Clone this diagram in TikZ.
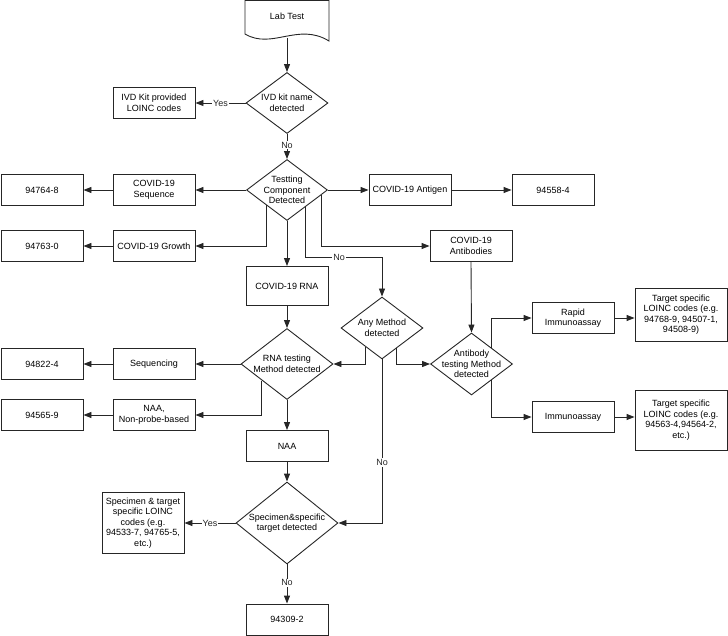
\documentclass[tikz,border=0pt]{standalone}
\usepackage{fontspec}
\setmainfont{Liberation Sans}
\usepackage{tikz}
\usetikzlibrary{shapes.geometric,calc,arrows.meta}

\begin{document}
\begin{tikzpicture}[x=1pt, y=-1pt,
  proc/.style={rectangle, draw=black!85, line width=0.9pt, fill=white,
               minimum width=82pt, minimum height=31pt, inner sep=1pt,
               align=center, font=\fontsize{9}{10.5}\selectfont},
  dec/.style={diamond, draw=black!85, line width=0.9pt, fill=white,
              inner sep=0pt},
  dtext/.style={align=center, inner sep=0pt,
                font=\fontsize{9}{10.5}\selectfont},
  flow/.style={line width=0.9pt, black!85,
               -{Triangle[length=8pt,width=6pt]}},
  tag/.style={fill=white, inner sep=1pt,
              font=\fontsize{9}{10.5}\selectfont}
]
\useasboundingbox (0,0) rectangle (728,636);
% Start: document shape
\draw[line width=0.9pt, black!85] (245,0.5) -- (329,0.5) -- (329,41)
  .. controls (298,22) and (272,50) .. (245,34) -- cycle;
\node[dtext] (lab) at (287,16) {Lab Test};
\coordinate (labend) at (287,38);
% Decisions
\node[dec, minimum width=82pt, minimum height=61pt,
      label={[dtext]center:{IVD kit name\\detected}}] (ivd) at (287,103) {};
\node[dec, minimum width=81pt, minimum height=61pt,
      label={[dtext]center:{Testting\\Component\\Detected}}] (tcd) at (287,190) {};
\node[dec, minimum width=82pt, minimum height=62pt,
      label={[dtext]center:{Any Method\\detected}}] (any) at (382,328) {};
\node[dec, minimum width=92pt, minimum height=71pt,
      label={[dtext]center:{RNA testing\\Method detected}}] (rna) at (287,364) {};
\node[dec, minimum width=82pt, minimum height=62pt,
      label={[dtext]center:{Antibody\\testing Method\\detected}}] (abt) at (471.5,364) {};
\node[dec, minimum width=102pt, minimum height=82pt,
      label={[dtext]center:{Specimen\&specific\\target detected}}] (spec) at (287,523) {};
% Left columns
\node[proc] (ivdkit)   at (154,103) {IVD Kit provided\\LOINC codes};
\node[proc] (seq)      at (154,190) {COVID-19\\Sequence};
\node[proc] (c94764)   at (42,190)  {94764-8};
\node[proc] (growth)   at (154,246) {COVID-19 Growth};
\node[proc] (c94763)   at (42,246)  {94763-0};
\node[proc] (seqg)     at (154,364) {Sequencing};
\node[proc] (c94822)   at (42,364)  {94822-4};
\node[proc] (nonprobe) at (154,415) {NAA,\\Non-probe-based};
\node[proc] (c94565)   at (42,415)  {94565-9};
\node[proc, minimum height=61pt] (specbox) at (143,523)
  {Specimen \& target\\specific LOINC\\codes (e.g.\\94533-7, 94765-5,\\etc.)};
% Middle column
\node[proc, minimum height=39pt] (covrna) at (287,286) {COVID-19 RNA};
\node[proc] (naa)    at (287,446)   {NAA};
\node[proc] (c94309) at (287,619.5) {94309-2};
% Right columns
\node[proc] (antigen) at (410,190) {COVID-19 Antigen};
\node[proc] (c94558)  at (553,190) {94558-4};
\node[proc] (abs)     at (471,246) {COVID-19\\Antibodies};
\node[proc] (rapid)   at (573,318) {Rapid\\Immunoassay};
\node[proc] (immuno)  at (573,417) {Immunoassay};
\node[proc, minimum width=92pt, minimum height=53pt] (t1) at (681,314.5)
  {Target specific\\LOINC codes (e.g.\\94768-9, 94507-1,\\94508-9)};
\node[proc, minimum width=92pt, minimum height=60pt] (t2) at (681,420)
  {Target specific\\LOINC codes (e.g.\\94563-4,94564-2,\\etc.)};
% Top part
\draw[flow] (labend) -- (ivd.north);
\draw[flow] (ivd.west) -- node[tag] (yes1) {Yes} (ivdkit.east);
\draw[flow] (ivd.south) -- node[tag, pos=0.45] (no1) {No} (tcd.north);
% Testing component branches
\draw[flow] (tcd.west) -- (seq.east);
\draw[flow] (seq.west) -- (c94764.east);
\draw[flow] ($(tcd.west)!0.5!(tcd.south)$) |- (growth.east);
\draw[flow] (growth.west) -- (c94763.east);
\draw[flow] (tcd.east) -- (antigen.west);
\draw[flow] (antigen.east) -- (c94558.west);
\draw[flow] (tcd.south) -- (covrna.north);
\draw[flow] ($(tcd.south)!0.45!(tcd.east)$) -- ++(0,50)
  -| node[tag, pos=0.22] (no2) {No} (any.north);
\draw[flow] ($(tcd.south)!0.85!(tcd.east)$) |- (abs.west);
% RNA branch
\draw[flow] (covrna.south) -- (rna.north);
\draw[flow] (rna.west) -- (seqg.east);
\draw[flow] (seqg.west) -- (c94822.east);
\draw[flow] ($(rna.west)!0.46!(rna.south)$) |- (nonprobe.east);
\draw[flow] (nonprobe.west) -- (c94565.east);
\draw[flow] (rna.south) -- (naa.north);
% Any method branch
\draw[flow] ($(any.west)!0.6!(any.south)$) |- (rna.east);
\draw[flow] ($(any.south)!0.36!(any.east)$) |- (abt.west);
\draw[flow] (any.south) |- node[tag, pos=0.315] (no3) {No} (spec.east);
% Antibody branch
\draw[flow] (abs.south) -- (abt.north);
\draw[flow] ($(abt.north)!0.49!(abt.east)$) |- (rapid.west);
\draw[flow] ($(abt.south)!0.49!(abt.east)$) |- (immuno.west);
\draw[flow] (rapid.east) -- (rapid.east -| t1.west);
\draw[flow] (immuno.east) -- (immuno.east -| t2.west);
% Specimen
\draw[flow] (naa.south) -- (spec.north);
\draw[flow] (spec.west) -- node[tag] (yes2) {Yes} (specbox.east);
\draw[flow] (spec.south) -- node[tag, pos=0.47] (no4) {No} (c94309.north);
\end{tikzpicture}
\end{document}
